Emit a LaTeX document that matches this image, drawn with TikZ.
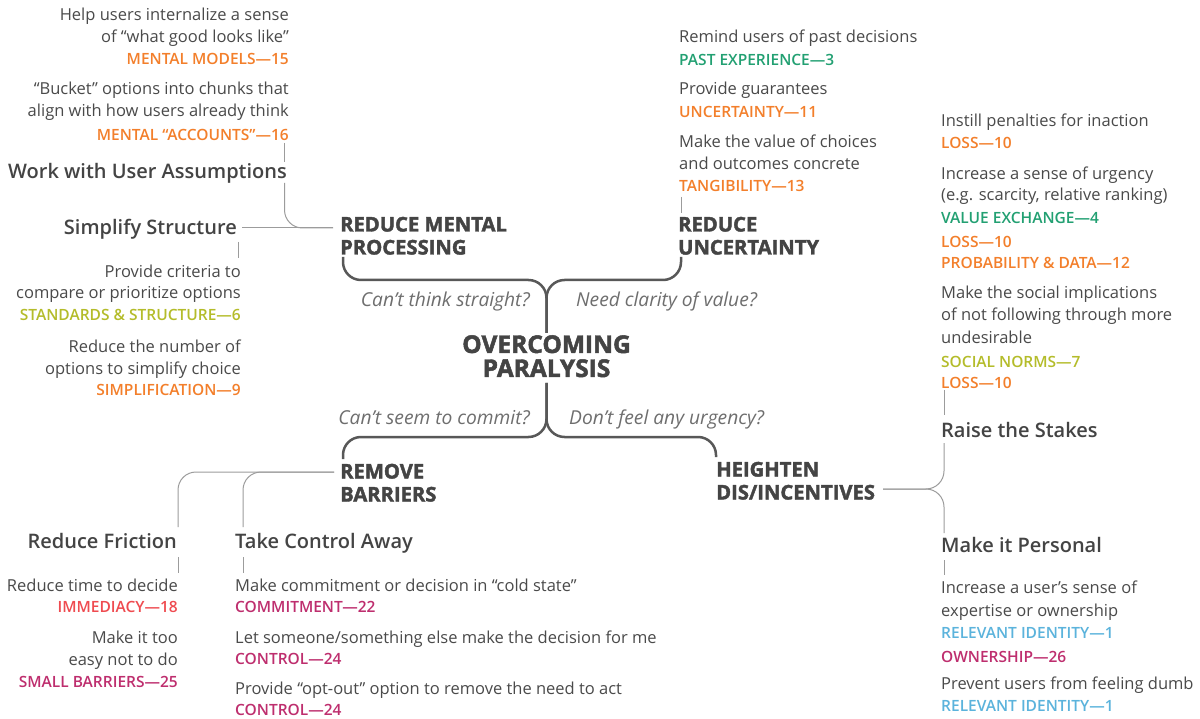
\documentclass[tikz,border=0pt]{standalone}
\usepackage{fontspec}
\setmainfont{Open Sans}
\newfontfamily\sbfont{Open Sans Semibold}

\definecolor{txt}{HTML}{4A4A4A}
\definecolor{headc}{HTML}{444444}
\definecolor{askc}{HTML}{6E6E6E}
\definecolor{mainc}{HTML}{585858}
\definecolor{thinc}{HTML}{9C9C9C}
\definecolor{tOrange}{HTML}{F37F2B}
\definecolor{tGreen}{HTML}{22A072}
\definecolor{tOlive}{HTML}{B4BC2A}
\definecolor{tMagenta}{HTML}{BE2E6E}
\definecolor{tBlue}{HTML}{5BB3DC}
\definecolor{tRed}{HTML}{EF4B50}

\tikzset{
  body/.style={font=\fontsize{16.5}{20}\selectfont, text=txt, inner sep=0pt},
  tag/.style={font=\sbfont\fontsize{15.5}{19}\selectfont, inner sep=0pt},
  head/.style={font=\sbfont\fontsize{20}{24}\selectfont, text=headc, inner sep=0pt},
  branch/.style={font=\bfseries\fontsize{20.2}{24}\selectfont\addfontfeature{FakeBold=2},
    text=headc, inner sep=0pt, anchor=base west},
  hub/.style={font=\bfseries\fontsize{24.5}{28}\selectfont\addfontfeature{FakeBold=2},
    text=headc, inner sep=0pt, anchor=base},
  ask/.style={font=\itshape\fontsize{19.2}{23}\selectfont, text=askc, inner sep=0pt},
  L/.style={anchor=base west},
  R/.style={anchor=base east},
  main/.style={draw=mainc, line width=2.5pt, rounded corners=18pt},
  thin/.style={draw=thinc, line width=1pt, rounded corners=18pt},
}

\begin{document}
\begin{tikzpicture}[x=1pt, y=-1pt]
\fill[white] (0,0) rectangle (1200,719);
\useasboundingbox (0,0) rectangle (1200,719);

% ---- hub ----
\node[hub] (hub1) at (546.5,353) {OVERCOMING};
\node[hub] (hub2) at (546.5,377) {PARALYSIS};

% ---- four branches ----
\node[branch] (rmp1) at (340,231.5) {REDUCE MENTAL};
\node[branch] (rmp2) at (340,254.5) {PROCESSING};
\node[branch] (ru1) at (678,231.5) {REDUCE};
\node[branch] (ru2) at (678,254.5) {UNCERTAINTY};
\node[branch] (rb1) at (340,478.5) {REMOVE};
\node[branch] (rb2) at (340,501.5) {BARRIERS};
\node[branch] (hd1) at (716,476.5) {HEIGHTEN};
\node[branch] (hd2) at (716,499.5) {DIS/INCENTIVES};

% ---- questions ----
\node[ask, R] (q1) at (530,306.5) {Can’t think straight?};
\node[ask, L] (q2) at (576,306.5) {Need clarity of value?};
\node[ask, R] (q3) at (530,424.5) {Can’t seem to commit?};
\node[ask, L] (q4) at (569,424.5) {Don’t feel any urgency?};

% ---- reduce mental processing ----
\node[body, R] (tl1) at (289,21) {Help users internalize a sense};
\node[body, R] (tl2) at (289,43) {of “what good looks like”};
\node[tag, R, text=tOrange] (tl3) at (289,65) {MENTAL MODELS—15};
\node[body, R] (tl4) at (289,95) {“Bucket” options into chunks that};
\node[body, R] (tl5) at (289,117) {align with how users already think};
\node[tag, R, text=tOrange] (tl6) at (289,140.5) {MENTAL “ACCOUNTS”—16};
\node[head, R] (work) at (287,179) {Work with User Assumptions};
\node[head, R] (simp) at (237,235) {Simplify Structure};
\node[body, R] (ss1) at (241,278) {Provide criteria to};
\node[body, R] (ss2) at (241,299) {compare or prioritize options};
\node[tag, R, text=tOlive] (ss3) at (241,320.5) {STANDARDS \& STRUCTURE—6};
\node[body, R] (ss4) at (241,353) {Reduce the number of};
\node[body, R] (ss5) at (241,374) {options to simplify choice};
\node[tag, R, text=tOrange] (ss6) at (241,395.5) {SIMPLIFICATION—9};

% ---- reduce uncertainty ----
\node[body, L] (tc1) at (679,43) {Remind users of past decisions};
\node[tag, L, text=tGreen] (tc2) at (679,65.5) {PAST EXPERIENCE—3};
\node[body, L] (tc3) at (679,95) {Provide guarantees};
\node[tag, L, text=tOrange] (tc4) at (679,118) {UNCERTAINTY—11};
\node[body, L] (tc5) at (679,148) {Make the value of choices};
\node[body, L] (tc6) at (679,170) {and outcomes concrete};
\node[tag, L, text=tOrange] (tc7) at (679,191.5) {TANGIBILITY—13};

% ---- heighten dis/incentives ----
\node[body, L] (r1) at (941,127) {Instill penalties for inaction};
\node[tag, L, text=tOrange] (r2) at (941,148.5) {LOSS—10};
\node[body, L] (r3) at (941,180) {Increase a sense of urgency};
\node[body, L] (r4) at (941,201) {(e.g. scarcity, relative ranking)};
\node[tag, L, text=tGreen] (r5) at (941,223.5) {VALUE EXCHANGE—4};
\node[tag, L, text=tOrange] (r6) at (941,247.5) {LOSS—10};
\node[tag, L, text=tOrange] (r7) at (941,268.5) {PROBABILITY \& DATA—12};
\node[body, L] (r8) at (941,299) {Make the social implications};
\node[body, L] (r9) at (941,321) {of not following through more};
\node[body, L] (r10) at (941,344) {undesirable};
\node[tag, L, text=tOlive] (r11) at (941,367.5) {SOCIAL NORMS—7};
\node[tag, L, text=tOrange] (r12) at (941,388.5) {LOSS—10};
\node[head, L] (raise) at (941,437) {Raise the Stakes};
\node[head, L] (pers) at (941,552) {Make it Personal};
\node[body, L] (p1) at (941,593) {Increase a user’s sense of};
\node[body, L] (p2) at (941,616) {expertise or ownership};
\node[tag, L, text=tBlue] (p3) at (941,638.5) {RELEVANT IDENTITY—1};
\node[tag, L, text=tMagenta] (p4) at (941,662.5) {OWNERSHIP—26};
\node[body, L] (p5) at (941,689) {Prevent users from feeling dumb};
\node[tag, L, text=tBlue] (p6) at (941,711.5) {RELEVANT IDENTITY—1};

% ---- remove barriers ----
\node[head, R] (fric) at (177,548) {Reduce Friction};
\node[head, L] (ctrl) at (235,548) {Take Control Away};
\node[body, R] (f1) at (178,591) {Reduce time to decide};
\node[tag, R, text=tRed] (f2) at (178,612.5) {IMMEDIACY—18};
\node[body, R] (f3) at (178,643) {Make it too};
\node[body, R] (f4) at (178,665) {easy not to do};
\node[tag, R, text=tMagenta] (f5) at (178,687.5) {SMALL BARRIERS—25};
\node[body, L] (c1) at (235,591) {Make commitment or decision in “cold state”};
\node[tag, L, text=tMagenta] (c2) at (235,612.5) {COMMITMENT—22};
\node[body, L] (c3) at (235,643) {Let someone/something else make the decision for me};
\node[tag, L, text=tMagenta] (c4) at (235,664.5) {CONTROL—24};
\node[body, L] (c5) at (235,694) {Provide “opt-out” option to remove the need to act};
\node[tag, L, text=tMagenta] (c6) at (235,715.5) {CONTROL—24};

% ---- hub connectors ----
\coordinate (hubN) at (546.5,333);
\coordinate (hubS) at (546.5,383);
\coordinate (hubUp) at (546.5,280);
\coordinate (hubDn) at (546.5,437);
\coordinate (rmpEnd) at (343,257);
\coordinate (ruEnd) at (681,257);
\coordinate (rbEnd) at (343,459);
\coordinate (hdEnd) at (716,457);
\draw[main] (rmpEnd) |- (hubUp) -- (hubN);
\draw[main] (ruEnd) |- (hubUp) -- (hubN);
\draw[main] (rbEnd) |- (hubDn) -- (hubS);
\draw[main] (hdEnd) |- (hubDn) -- (hubS);

% ---- sub-branch connectors ----
\coordinate (rmpL) at (333,228);
\coordinate (simpR) at (242,228);
\coordinate (workB) at (284.5,183);
\draw[thin] (rmpL) -- (simpR);
\draw[thin] (workB) |- (rmpL);
\coordinate (tl6B) at (284.5,143);
\coordinate (workT) at (284.5,162);
\draw[thin] (tl6B) -- (workT);
\coordinate (simpB) at (238,242);
\coordinate (ss1T) at (238,258);
\draw[thin] (simpB) -- (ss1T);
\coordinate (tc7B) at (681,197);
\coordinate (ruT) at (681,213);
\draw[thin] (tc7B) -- (ruT);

\coordinate (hdR) at (883,489);
\coordinate (raiseB) at (944,443);
\coordinate (persT) at (944,533);
\draw[thin] (hdR) -| (raiseB);
\draw[thin] (hdR) -| (persT);
\coordinate (r12B) at (944,390);
\coordinate (raiseT) at (944,415);
\draw[thin] (r12B) -- (raiseT);
\coordinate (persB) at (944,560);
\coordinate (p1T) at (944,575);
\draw[thin] (persB) -- (p1T);

\coordinate (rbL) at (334,472);
\coordinate (fricT) at (178,527);
\coordinate (ctrlT) at (243,527);
\draw[thin] (rbL) -| (fricT);
\draw[thin] (rbL) -| (ctrlT);
\coordinate (fricB) at (178,557);
\coordinate (f1T) at (178,573);
\draw[thin] (fricB) -- (f1T);
\coordinate (ctrlB) at (243,557);
\coordinate (c1T) at (243,573);
\draw[thin] (ctrlB) -- (c1T);
\end{tikzpicture}
\end{document}
